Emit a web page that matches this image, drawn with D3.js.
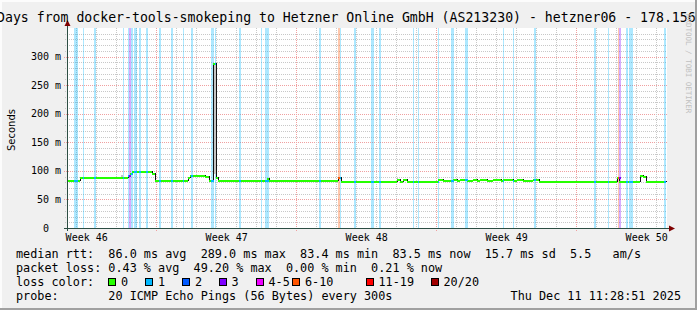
<!DOCTYPE html>
<html>
<head>
<meta charset="utf-8">
<script src="https://cdn.jsdelivr.net/npm/d3@7"></script>
<style>
  body { margin: 0; background: #f0f0f0; }
  svg { display: block; }
  text { font-family: "DejaVu Sans Mono", monospace; white-space: pre; }
</style>
</head>
<body>
<svg id="chart" width="697" height="310"></svg>
<script>
// ---- data (days since graph start, ms) ----
const titleText = "Days from docker-tools-smokeping to Hetzner Online GmbH (AS213230) - hetzner06 - 178.156";

const medianDays = [0, 0.65, 3.05, 3.15, 3.25, 4.25, 4.4, 6.05, 6.15, 6.9, 7.1, 7.3, 7.45, 7.55,
  10.0, 10.1, 13.55, 13.7, 16.5, 16.65, 16.8, 17.0, 18.55, 18.8, 19.3, 19.5, 19.65,
  20.0, 20.3, 20.5, 20.65, 21.0, 21.3, 21.7, 21.8, 22.3, 22.5, 22.8, 23.3, 23.6, 24.0,
  26.2, 27.5, 27.6, 28.65, 28.8, 28.95, 29.95];
const medianMs = [84, 90, 93, 97, 100.5, 97, 84, 89, 92, 91, 84, 289, 90, 84,
  88, 84, 90, 83, 85, 83, 86, 83, 85.5, 83.5, 85, 83.5, 85.5,
  84, 85, 83.5, 85, 83.5, 85, 84, 85.5, 83.5, 85, 83.5, 85, 83, 82.5,
  83, 89, 83, 93, 91, 83, 83];

// periods with packet loss: [from day, to day, loss class index]
const lossBands = [
  [0.35, 0.55, 1], [0.8, 0.85, 1], [1.35, 1.45, 1], [2.8, 2.85, 1],
  [3.05, 3.11, 1], [3.11, 3.21, 3], [3.21, 3.3, 1], [3.36, 3.51, 1],
  [3.61, 3.7, 1], [3.95, 4.05, 1], [4.58, 4.7, 1], [5.18, 5.3, 1],
  [5.78, 5.85, 1], [6.21, 6.3, 1], [7.2, 7.35, 1], [7.38, 7.46, 1],
  [8.58, 8.68, 1], [9.68, 9.75, 1], [9.91, 10.1, 1], [12.6, 12.7, 1],
  [13.55, 13.63, 5], [13.63, 13.7, 1], [14.35, 14.45, 1], [15.2, 15.35, 1],
  [15.6, 15.7, 1], [17.3, 17.35, 1], [17.55, 17.6, 1], [18.53, 18.6, 1],
  [19.2, 19.35, 1], [19.91, 20.05, 1], [21.78, 21.85, 1], [22.3, 22.35, 1],
  [23.35, 23.45, 1], [26.35, 26.45, 1], [27.05, 27.1, 1], [27.53, 27.58, 5],
  [27.58, 27.68, 3], [27.95, 28.05, 1], [28.1, 28.3, 1], [29.85, 29.95, 1]
];

// smoke (ping spread): [from day, to day, low ms, high ms]
const smoke = [[2.7, 2.8, 90, 93], [7.3, 7.45, 95, 285], [16.45, 16.55, 86, 88]];

const lossLabels = ["0", "1", "2", "3", "4-5", "6-10", "11-19", "20/20"];
const lossColors = ["#26ff00", "#00b8ff", "#0059ff", "#7e00ff", "#ee00ff", "#ff5500", "#ff0000", "#a10000"];

const yTicks = [0, 50, 100, 150, 200, 250, 300];
const yTickLabels = ["0  ", "50 m", "100 m", "150 m", "200 m", "250 m", "300 m"];
const weekLabels = ["Week 46", "Week 47", "Week 48", "Week 49", "Week 50"];
const weekLabelDays = [0.985, 7.985, 14.985, 21.985, 28.985];
const dayGridStart = 0.465;
const weekGridDays = [4.465, 11.465, 18.465, 25.465];

const rttStats = ["86.0 ms avg", "289.0 ms max", "83.4 ms min", "83.5 ms now", "15.7 ms sd", "5.5   am/s"];
const lossStats = ["0.43 % avg", "49.20 % max", "0.00 % min", "0.21 % now"];
const probeText = "20 ICMP Echo Pings (56 Bytes) every 300s";
const dateText = "Thu Dec 11 11:28:51 2025";

// ---- layout ----
const W = 697, H = 310;
const plotL = 67, plotT = 28, pw = 600, ph = 200;
const svg = d3.select("#chart");

const x = d3.scaleLinear().domain([0, 30]).range([plotL, plotL + pw]);
const y = d3.scaleLinear().domain([0, 350]).range([plotT + ph, plotT]);
const px = v => Math.round(v);

// canvas + 3d frame
svg.append("rect").attr("width", W).attr("height", H).attr("fill", "#f0f0f0");
svg.append("rect").attr("x", 0).attr("y", 0).attr("width", W).attr("height", 2).attr("fill", "#fcfcfc");
svg.append("rect").attr("x", 0).attr("y", 0).attr("width", 2).attr("height", H).attr("fill", "#fcfcfc");
svg.append("rect").attr("x", 0).attr("y", H - 2).attr("width", W).attr("height", 2).attr("fill", "#a0a0a0");
svg.append("rect").attr("x", W - 2).attr("y", 0).attr("width", 2).attr("height", H).attr("fill", "#a0a0a0");

// plot background
svg.append("rect").attr("x", plotL).attr("y", plotT).attr("width", pw).attr("height", ph).attr("fill", "#ffffff");

const grid = svg.append("g").attr("shape-rendering", "crispEdges");
const minorCol = "#c8c8c8", majorCol = "#f0a0a0";

// horizontal grid: every 10 ms, major every 50 ms
d3.range(10, 350, 10).forEach(v => {
  const major = v % 50 === 0;
  const yy = px(y(v)) + 0.5;
  grid.append("line").attr("x1", plotL - (major ? 3 : 2)).attr("x2", plotL + pw)
    .attr("y1", yy).attr("y2", yy)
    .attr("stroke", major ? majorCol : minorCol).attr("stroke-dasharray", "1,1");
});

// vertical grid: daily, major on weeks
d3.range(0, 30).forEach(k => {
  const d = dayGridStart + k;
  const major = weekGridDays.some(w => Math.abs(w - d) < 1e-6);
  const xx = px(x(d)) + 0.5;
  grid.append("line").attr("x1", xx).attr("x2", xx)
    .attr("y1", plotT).attr("y2", plotT + ph + (major ? 3 : 2))
    .attr("stroke", major ? majorCol : minorCol).attr("stroke-dasharray", "1,1");
});

// loss bands (full height, light loss colour)
const bandG = svg.append("g").attr("shape-rendering", "crispEdges");
lossBands.forEach(b => {
  const x0 = px(x(b[0])), x1 = Math.max(px(x(b[1])), x0 + 1);
  bandG.append("rect").attr("x", x0).attr("y", plotT).attr("width", x1 - x0).attr("height", ph)
    .attr("fill", lossColors[b[2]]).attr("fill-opacity", 0.32);
});

// smoke
smoke.forEach(s => {
  bandG.append("rect").attr("x", px(x(s[0]))).attr("y", y(s[3]))
    .attr("width", Math.max(px(x(s[1])) - px(x(s[0])), 1)).attr("height", y(s[2]) - y(s[3]))
    .attr("fill", "#c4c4c4");
});

// median: dark step line, then loss-coloured horizontal segments
const medianPts = medianDays.map((d, i) => [d, medianMs[i]]);
svg.append("path")
  .attr("d", d3.line().x(d => px(x(d[0])) + 0.5).y(d => px(y(d[1])) + 0.5).curve(d3.curveStepAfter)(medianPts))
  .attr("fill", "none").attr("stroke", "#101010").attr("stroke-width", 1)
  .attr("shape-rendering", "crispEdges");

const medAt = d => {
  let v = medianMs[0];
  for (let i = 0; i < medianDays.length; i++) if (medianDays[i] <= d + 1e-9) v = medianMs[i];
  return v;
};
const lineG = svg.append("g").attr("shape-rendering", "crispEdges");
for (let i = 0; i < medianDays.length - 1; i++) {
  const x0 = px(x(medianDays[i])), x1 = px(x(medianDays[i + 1]));
  lineG.append("rect").attr("x", x0).attr("y", px(y(medianMs[i])) - 0.5)
    .attr("width", Math.max(x1 - x0, 1)).attr("height", 2).attr("fill", lossColors[0]);
}
lossBands.forEach(b => {
  const x0 = px(x(b[0])), x1 = Math.max(px(x(b[1])), x0 + 1);
  lineG.append("rect").attr("x", x0).attr("y", px(y(medAt(b[0]))) - 0.5)
    .attr("width", x1 - x0).attr("height", 2).attr("fill", lossColors[b[2]]);
});

// axes
const axisCol = "#2c4d43", arrowCol = "#7f0000";
svg.append("line").attr("x1", plotL + 0.5).attr("x2", plotL + 0.5).attr("y1", plotT + ph + 3).attr("y2", plotT - 4)
  .attr("stroke", axisCol).attr("shape-rendering", "crispEdges");
svg.append("line").attr("x1", plotL - 3).attr("x2", plotL + pw + 3).attr("y1", plotT + ph + 0.5).attr("y2", plotT + ph + 0.5)
  .attr("stroke", axisCol).attr("shape-rendering", "crispEdges");
svg.append("path").attr("d", `M${plotL - 2.5},${plotT - 2} L${plotL + 3.5},${plotT - 2} L${plotL + 0.5},${plotT - 8} Z`).attr("fill", arrowCol);
svg.append("path").attr("d", `M${plotL + pw + 2},${plotT + ph - 2.5} L${plotL + pw + 2},${plotT + ph + 3.5} L${plotL + pw + 8},${plotT + ph + 0.5} Z`).attr("fill", arrowCol);

// y tick labels
yTicks.forEach((v, i) => {
  svg.append("text").attr("x", 61).attr("y", y(v) + 3.5).attr("text-anchor", "end")
    .attr("font-size", 10).attr("fill", "#000").text(yTickLabels[i]);
});

// x labels
weekLabels.forEach((t, i) => {
  svg.append("text").attr("x", x(weekLabelDays[i])).attr("y", 241).attr("text-anchor", "middle")
    .attr("font-size", 10).attr("fill", "#000").text(t);
});

// vertical axis title
svg.append("text").attr("transform", "translate(15,130) rotate(-90)").attr("text-anchor", "middle")
  .style("font-family", "'DejaVu Sans', sans-serif").attr("font-size", 10).attr("fill", "#000").text("Seconds");

// title
svg.append("text").attr("x", -3).attr("y", 22).attr("font-size", 13.2).attr("fill", "#000").text(titleText);

// rrdtool watermark
svg.append("text").attr("transform", "translate(686,14) rotate(90)").attr("font-size", 7.5)
  .attr("fill", "#c0c0c0").text("RRDTOOL / TOBI OETIKER");

// legend
const lg = svg.append("g").attr("font-size", 11.8).attr("fill", "#000");
lg.append("text").attr("x", 16).attr("y", 258).text("median rtt:  " + rttStats.join("  "));
lg.append("text").attr("x", 16).attr("y", 272).text("packet loss: " + lossStats.join("  "));
lg.append("text").attr("x", 16).attr("y", 286).text("loss color:");
const boxX = [108, 145, 182, 218.5, 255.5, 292, 365.5, 430.5];
lossLabels.forEach((l, i) => {
  lg.append("rect").attr("x", px(boxX[i]) + 0.5).attr("y", 278.5).attr("width", 7).attr("height", 7)
    .attr("fill", lossColors[i]).attr("stroke", "#000").attr("stroke-width", 1);
  lg.append("text").attr("x", boxX[i] + 13).attr("y", 286).text(l);
});
lg.append("text").attr("x", 16).attr("y", 300).text("probe:       " + probeText);
lg.append("text").attr("x", 681).attr("y", 300).attr("text-anchor", "end").text(dateText);
</script>
</body>
</html>
